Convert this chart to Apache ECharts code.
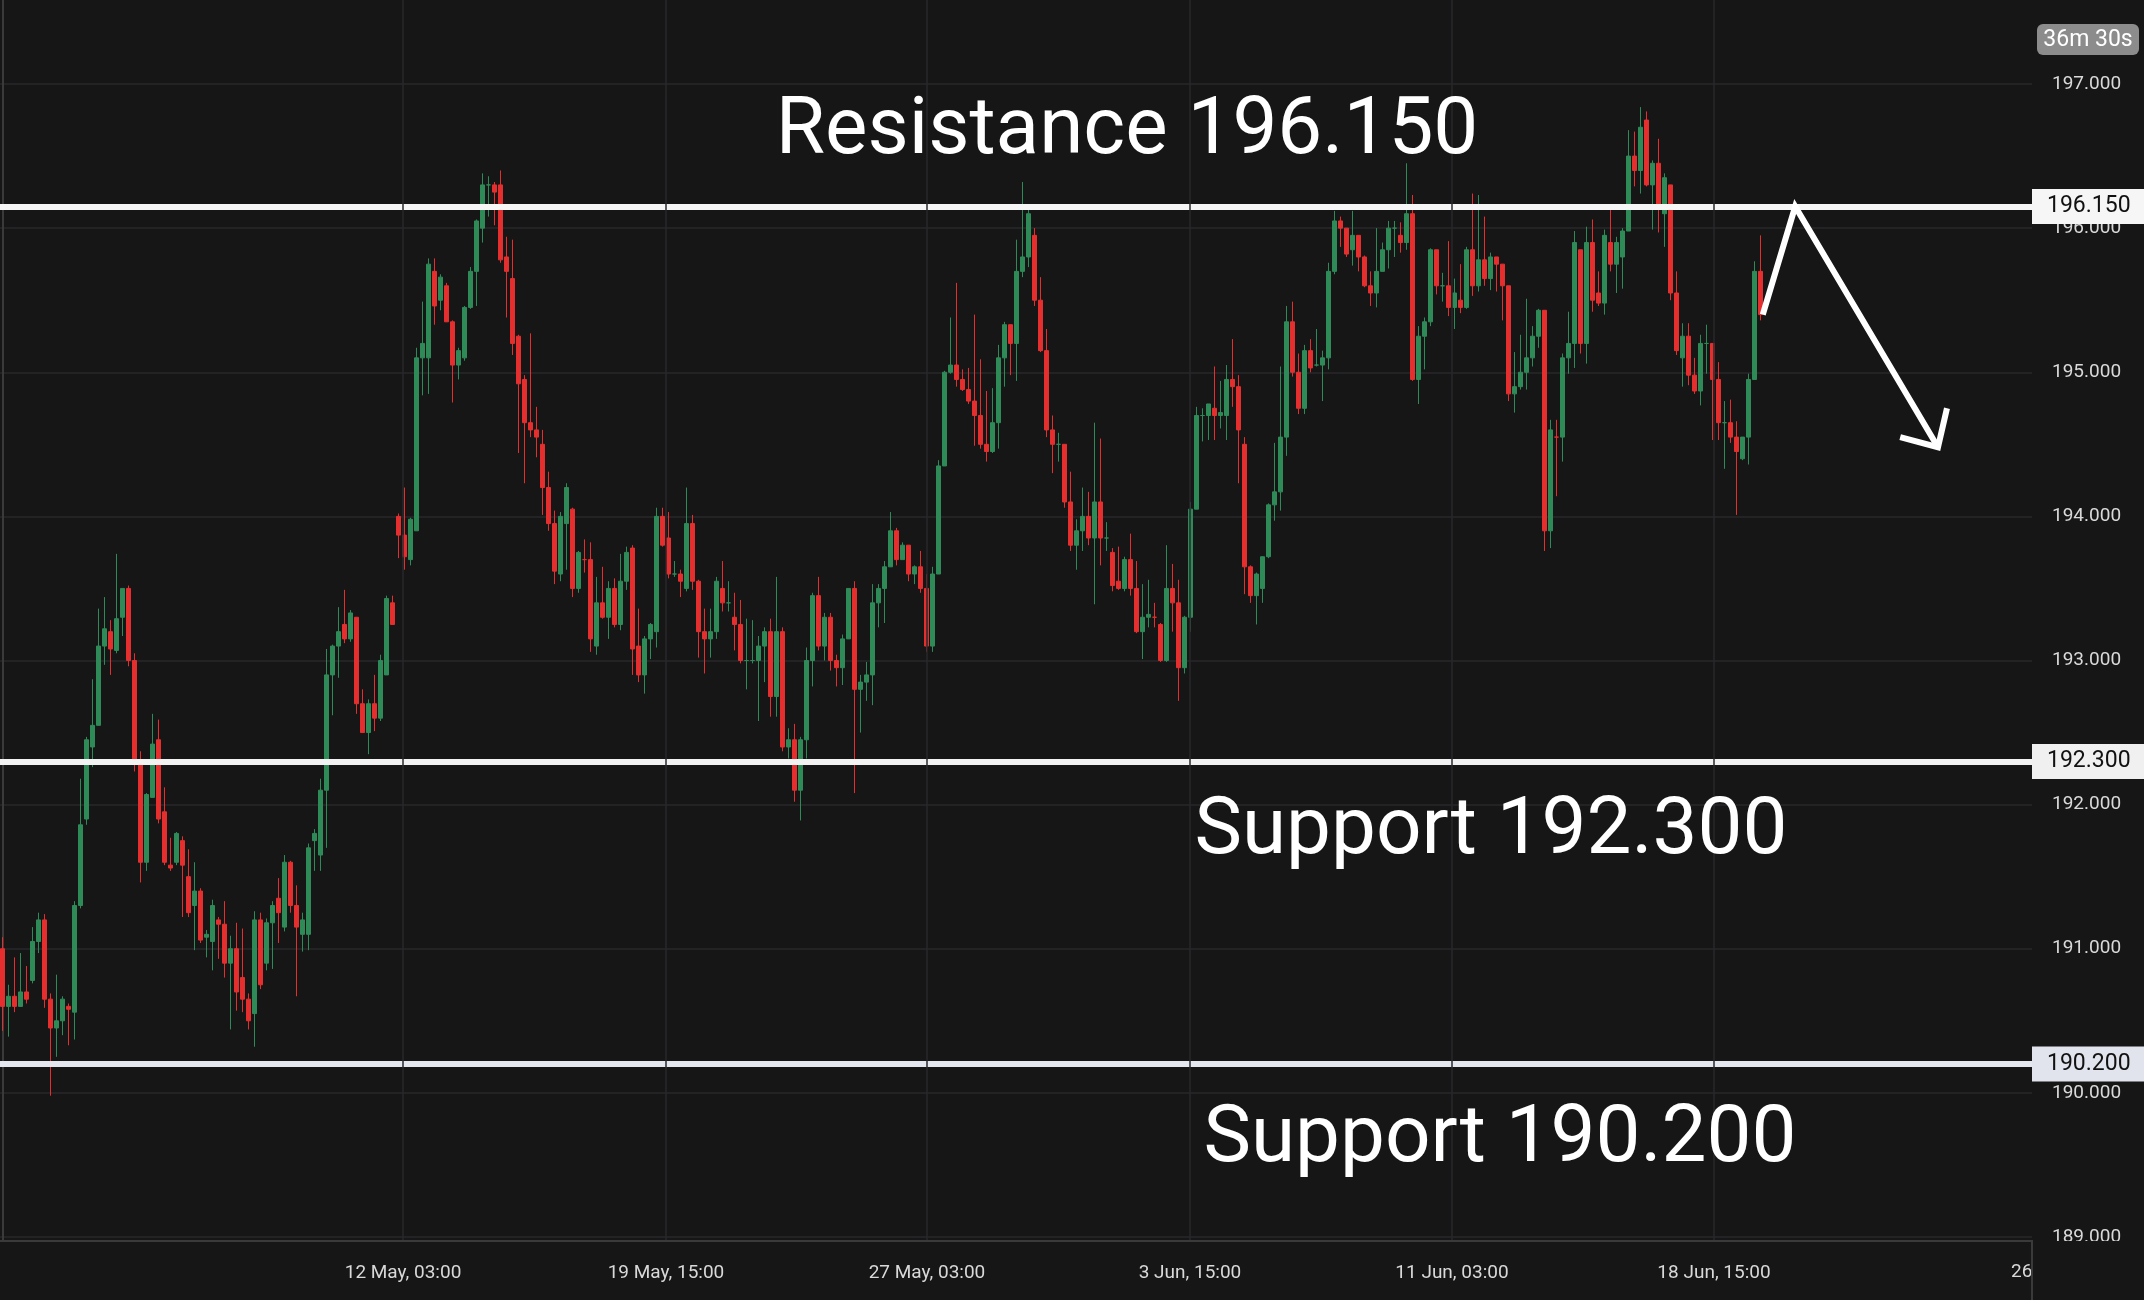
<!DOCTYPE html>
<html><head><meta charset="utf-8">
<script src="https://cdn.jsdelivr.net/npm/echarts@6/dist/echarts.min.js"></script>
<style>html,body{margin:0;padding:0;background:#161616;}#c{width:2144px;height:1300px;}</style>
</head><body><div id="c"></div>
<script>
// 3-hour candles
const opens = [
191.00,190.60,190.67,190.60,190.70,190.78,191.05,191.20,190.65,190.45,
190.50,190.60,190.56,191.30,191.90,192.40,192.55,193.10,193.20,193.07,
193.30,193.50,193.00,192.30,191.60,192.05,192.45,191.95,191.58,191.60,
191.75,191.50,191.30,191.40,191.08,191.05,191.20,191.17,190.90,191.00,
190.80,190.65,190.55,191.20,190.90,191.18,191.35,191.15,191.60,191.30,
191.10,191.10,191.75,191.65,192.10,192.90,193.10,193.25,193.15,193.30,
192.70,192.50,192.70,192.60,192.90,193.40,194.00,193.87,193.70,193.90,
195.10,195.10,195.70,195.50,195.60,195.35,195.05,195.10,195.45,195.70,
196.00,196.30,196.30,196.30,195.80,195.65,195.25,194.95,194.65,194.60,
194.50,194.20,193.95,193.60,193.95,194.05,193.50,193.70,193.70,193.10,
193.40,193.30,193.50,193.25,193.55,193.78,193.10,192.90,193.15,193.20,
194.00,193.85,193.60,193.60,193.50,193.95,193.55,193.20,193.15,193.20,
193.50,193.40,193.30,193.25,193.00,193.00,193.00,193.10,193.20,192.75,
193.20,192.40,192.45,192.10,192.45,193.00,193.45,193.10,193.30,193.00,
192.95,193.15,193.50,192.80,192.85,192.90,193.40,193.50,193.65,193.90,
193.70,193.80,193.60,193.65,193.50,193.10,193.60,194.35,195.00,195.05,
194.95,194.88,194.80,194.70,194.50,194.45,194.65,195.10,195.33,195.20,
195.70,195.80,195.95,195.50,195.15,194.60,194.50,194.50,194.10,193.80,
193.90,194.00,193.85,194.10,193.85,193.75,193.55,193.50,193.70,193.50,
193.20,193.30,193.30,193.25,193.00,193.50,193.40,192.95,193.30,194.05,
194.70,194.70,194.75,194.70,194.70,194.95,194.90,194.50,193.65,193.45,
193.50,193.72,194.08,194.17,194.55,195.35,195.00,194.75,195.15,195.05,
195.05,195.10,195.70,196.05,196.00,195.85,195.95,195.80,195.60,195.55,
195.70,195.85,196.00,195.95,195.90,196.10,194.95,195.25,195.35,195.85,
195.60,195.60,195.45,195.50,195.45,195.85,195.60,195.78,195.65,195.80,
195.75,195.60,194.85,194.90,195.00,195.10,195.25,195.43,193.90,194.55,
194.55,195.10,195.20,195.85,195.20,195.90,195.55,195.48,195.90,195.75,
195.80,195.98,196.50,196.40,196.75,196.30,196.45,196.10,196.30,195.55,
195.10,195.25,194.98,194.87,195.20,195.20,194.95,194.65,194.65,194.55,
194.40,194.55,194.95,195.70];
const highs = [
191.08,190.75,190.94,190.97,190.88,191.15,191.25,191.24,190.69,190.82,
190.67,190.62,191.33,192.18,192.47,192.87,193.36,193.44,193.28,193.74,
193.50,193.52,193.05,192.37,192.08,192.63,192.59,192.12,191.77,191.81,
191.78,191.69,191.60,191.42,191.13,191.34,191.22,191.33,191.09,191.18,
191.14,190.69,191.26,191.25,191.21,191.33,191.49,191.65,191.61,191.44,
191.25,191.73,191.83,192.18,193.08,193.11,193.37,193.49,193.35,193.30,
192.80,192.73,192.90,193.04,193.45,193.45,194.02,194.20,193.99,195.17,
195.49,195.79,195.79,195.68,195.62,195.36,195.17,195.46,195.73,196.06,
196.38,196.36,196.32,196.40,195.94,195.92,195.26,194.98,195.27,194.76,
194.60,194.31,194.04,194.03,194.23,194.06,193.76,193.84,193.82,193.58,
193.65,193.55,193.57,193.74,193.79,193.80,193.36,193.17,193.26,194.06,
194.06,194.03,193.69,193.63,194.20,194.01,193.56,193.36,193.36,193.58,
193.69,193.55,193.47,193.42,193.29,193.28,193.17,193.23,193.29,193.58,
193.23,192.53,192.56,192.47,193.09,193.47,193.58,193.33,193.33,193.04,
193.18,193.50,193.55,192.90,192.99,193.53,193.53,193.69,194.03,193.92,
193.82,193.80,193.66,193.76,193.60,193.65,194.39,195.01,195.38,195.62,
195.02,195.03,195.40,195.09,194.87,194.89,195.19,195.35,195.33,195.92,
196.32,196.13,196.00,195.66,195.30,194.70,194.58,194.50,194.31,193.98,
194.20,194.17,194.65,194.54,193.96,193.78,193.79,193.72,193.88,193.69,
193.53,193.56,193.40,193.26,193.80,193.67,193.56,193.31,194.10,194.76,
194.75,194.78,195.04,194.94,195.05,195.23,194.98,194.55,193.66,193.61,
193.72,194.09,194.51,195.04,195.46,195.49,195.13,195.19,195.23,195.30,
195.15,195.76,196.12,196.08,196.00,196.12,195.95,195.81,195.70,196.00,
195.90,196.05,196.05,196.04,196.45,196.23,195.32,195.38,195.86,195.85,
195.69,195.91,195.65,195.75,195.87,196.24,196.23,196.08,195.83,195.80,
195.75,195.60,195.14,195.26,195.51,195.32,195.44,195.43,194.67,194.67,
195.13,195.42,195.98,195.85,196.01,196.06,195.70,195.99,196.13,195.94,
196.00,196.68,196.67,196.84,196.81,196.47,196.62,196.38,196.30,195.70,
195.34,195.34,195.10,195.26,195.33,195.20,195.07,194.80,194.81,194.66,
194.55,194.99,195.77,195.95];
const lows = [
190.43,190.39,190.56,190.60,190.62,190.76,190.97,190.59,189.98,190.25,
190.40,190.33,190.37,191.28,191.86,192.26,192.55,192.97,192.90,193.05,
193.17,192.96,192.23,191.46,191.54,192.05,191.87,191.58,191.54,191.58,
191.22,191.22,190.99,191.04,190.94,190.85,190.93,190.80,190.44,190.57,
190.56,190.44,190.32,190.72,190.85,190.86,191.04,191.12,191.25,190.67,
190.98,190.99,191.54,191.54,191.70,192.62,192.88,193.12,193.13,192.63,
192.50,192.35,192.51,192.58,192.90,193.25,193.71,193.63,193.66,193.90,
194.84,194.85,195.33,195.43,195.35,194.79,194.95,195.08,195.44,195.46,
195.90,196.08,196.02,195.76,195.38,195.12,194.44,194.23,194.55,194.41,
194.01,193.90,193.53,193.55,193.63,193.44,193.47,193.61,193.06,193.04,
193.29,193.15,193.23,193.21,193.49,192.90,192.85,192.77,193.01,193.09,
193.79,193.57,193.58,193.44,193.48,193.49,193.02,192.91,193.02,193.15,
193.34,193.34,193.07,192.98,192.80,192.98,192.58,192.85,192.61,192.61,
192.37,192.32,192.02,191.89,192.32,192.82,193.07,193.00,192.93,192.82,
192.83,193.15,192.08,192.50,192.72,192.69,193.23,193.26,193.65,193.66,
193.70,193.55,193.53,193.47,193.06,193.06,193.60,194.35,194.99,194.90,
194.87,194.78,194.49,194.47,194.38,194.44,194.47,194.90,194.98,194.94,
195.66,195.73,195.46,195.14,194.55,194.30,194.38,194.06,193.76,193.63,
193.76,193.80,193.39,193.66,193.76,193.48,193.49,193.48,193.45,193.19,
193.01,193.23,193.23,192.99,192.99,193.20,192.72,192.91,193.20,194.05,
194.52,194.53,194.53,194.61,194.53,194.76,194.23,193.46,193.40,193.25,
193.40,193.71,193.97,194.04,194.42,194.97,194.71,194.71,195.00,195.04,
194.80,195.02,195.68,195.87,195.80,195.74,195.70,195.59,195.46,195.45,
195.70,195.72,195.80,195.83,195.85,194.94,194.78,195.02,195.32,195.54,
195.49,195.39,195.30,195.41,195.44,195.53,195.56,195.60,195.57,195.56,
195.36,194.80,194.72,194.88,194.88,195.04,195.17,193.76,193.78,194.14,
194.38,194.99,195.03,195.13,195.06,195.42,195.46,195.40,195.70,195.55,
195.58,195.98,196.29,196.24,196.29,195.99,195.97,195.87,195.50,195.12,
194.90,194.91,194.85,194.77,194.99,194.53,194.53,194.33,194.51,194.01,
194.39,194.36,194.95,195.36];
const closes = [
190.60,190.67,190.60,190.70,190.65,191.05,191.20,190.65,190.45,190.50,
190.65,190.58,191.30,191.86,192.45,192.55,193.10,193.22,193.08,193.29,
193.50,193.00,192.30,191.60,192.07,192.42,191.90,191.60,191.56,191.80,
191.58,191.25,191.40,191.06,191.10,191.30,191.17,190.90,191.00,190.70,
190.65,190.50,191.20,190.75,191.18,191.30,191.25,191.60,191.30,191.15,
191.20,191.70,191.80,192.10,192.90,193.10,193.20,193.15,193.33,192.70,
192.50,192.70,192.60,193.00,193.43,193.25,193.87,193.72,193.98,195.10,
195.20,195.75,195.46,195.66,195.35,195.05,195.15,195.45,195.70,196.05,
196.30,196.30,196.25,195.78,195.70,195.20,194.92,194.65,194.60,194.55,
194.20,193.95,193.62,194.00,194.20,193.50,193.75,193.70,193.15,193.40,
193.30,193.50,193.25,193.55,193.75,193.08,192.90,193.15,193.25,194.00,
193.80,193.60,193.60,193.55,193.95,193.55,193.20,193.15,193.20,193.55,
193.40,193.40,193.25,193.00,193.00,193.00,193.10,193.20,192.75,193.20,
192.40,192.45,192.10,192.45,193.00,193.45,193.10,193.30,193.00,192.95,
193.15,193.50,192.80,192.85,192.90,193.40,193.50,193.65,193.90,193.70,
193.80,193.60,193.65,193.50,193.10,193.60,194.35,195.00,195.05,194.95,
194.88,194.80,194.70,194.50,194.45,194.65,195.10,195.33,195.20,195.70,
195.80,196.10,195.50,195.15,194.60,194.50,194.50,194.10,193.80,193.90,
194.00,193.85,194.10,193.85,193.85,193.52,193.50,193.70,193.50,193.20,
193.30,193.32,193.30,193.00,193.50,193.40,192.95,193.30,194.05,194.70,
194.70,194.78,194.70,194.72,194.95,194.90,194.60,193.65,193.45,193.60,
193.72,194.08,194.17,194.55,195.35,195.00,194.75,195.15,195.03,195.05,
195.10,195.70,196.05,196.00,195.82,195.95,195.80,195.60,195.55,195.70,
195.85,196.00,196.00,195.90,196.10,194.95,195.25,195.35,195.85,195.60,
195.60,195.45,195.55,195.45,195.85,195.60,195.78,195.65,195.80,195.75,
195.60,194.85,194.90,195.00,195.10,195.25,195.43,193.90,194.60,194.55,
195.10,195.20,195.90,195.20,195.90,195.50,195.48,195.95,195.75,195.90,
195.98,196.50,196.40,196.70,196.30,196.45,196.15,196.35,195.55,195.15,
195.25,194.98,194.87,195.20,195.20,194.95,194.65,194.65,194.55,194.45,
194.55,194.95,195.70,195.40];

// time-axis labels and where they sit (in candle units); the last one lies just past the plot edge
const tickLabels = ["12 May, 03:00","19 May, 15:00","27 May, 03:00","3 Jun, 15:00","11 Jun, 03:00","18 Jun, 15:00","26 Jun, 03:00"];
const tickAt = [66.67, 110.5, 154, 197.83, 241.5, 285.17];
// price axis ticks
const priceTicks = [189, 190, 191, 192, 193, 194, 195, 196, 197];
// horizontal levels
const levels = [196.15, 192.3, 190.2];
const levelNames = ["Resistance", "Support", "Support"];
// projected path annotation (candle index, price)
const arrowPath = [[293.3, 195.40], [298.7, 196.15], [322.5, 194.48]];
const arrowHead = [[316.2, 194.55], [322.5, 194.48], [324.0, 194.75]];
const countdown = "36m 30s";

const UP = '#2e8b57', DOWN = '#e52f2f';
const FONT = 'Roboto, "Noto Sans", sans-serif';
const BG = '#161616';
const levelLine = ['#f6f6f6', '#f2f2f2', '#e4e7ef'];
const levelTag = ['#f6f6f6', '#f0f0f0', '#e1e4ec'];
const textPos = [[1127, 133], [1491, 833], [1500, 1141]];

const candles = opens.map((o, i) => [i, o, closes[i], lows[i], highs[i]]);

const chart = echarts.init(document.getElementById('c'), null, {renderer: 'canvas', width: 2144, height: 1300});

const graphics = [
  {type: 'rect', shape: {x: 0, y: 1241, width: 2144, height: 59}, style: {fill: BG}, z: 5, silent: true},
  {type: 'text', x: 2011, y: 1272, style: {text: tickLabels[tickLabels.length - 1], fill: '#d9d9d9', font: '19px ' + FONT,
    align: 'left', verticalAlign: 'middle', textAlign: 'left', textVerticalAlign: 'middle'}, z: 10, silent: true},
  {type: 'rect', shape: {x: 2033, y: 1242, width: 111, height: 58}, style: {fill: BG}, z: 11, silent: true},
  {type: 'line', shape: {x1: 2032, y1: 1240, x2: 2032, y2: 1300}, style: {stroke: '#3a3a3a', lineWidth: 2}, z: 12, silent: true},
  {type: 'rect', shape: {x: 2037, y: 24, width: 102, height: 31, r: 6}, style: {fill: '#8c8c8c'}, z: 12, silent: true},
  {type: 'text', x: 2088, y: 40, style: {text: countdown, fill: '#ffffff', font: '23px ' + FONT, align: 'center', verticalAlign: 'middle', textAlign: 'center', textVerticalAlign: 'middle'}, z: 12, silent: true}
];
levels.forEach((v, i) => {
  graphics.push({type: 'text', x: textPos[i][0], y: textPos[i][1],
    style: {text: levelNames[i] + ' ' + v.toFixed(3), fill: '#ffffff', font: '80px ' + FONT,
      align: 'center', verticalAlign: 'middle', textAlign: 'center', textVerticalAlign: 'middle'},
    z: 12, silent: true});
});

const option = {
  backgroundColor: BG,
  animation: false,
  grid: {left: 0, right: 112, top: 0, bottom: 59, containLabel: false},
  xAxis: {
    type: 'value', min: -0.5, max: 338.17, z: 10,
    axisLine: {show: true, lineStyle: {color: '#3a3a3a', width: 2}},
    axisTick: {show: false, customValues: tickAt},
    axisLabel: {customValues: tickAt, color: '#d9d9d9', fontSize: 19, fontFamily: FONT, margin: 23,
      formatter: v => { const i = tickAt.findIndex(t => Math.abs(t - v) < 0.01); return i >= 0 ? tickLabels[i] : ''; }},
    splitLine: {show: true, lineStyle: {color: '#29292d', width: 1.5}}
  },
  yAxis: {
    type: 'value', position: 'right', min: 188.972, max: 197.583, scale: true,
    axisLine: {show: true, lineStyle: {color: '#3a3a3a', width: 2}},
    axisTick: {show: false, customValues: priceTicks},
    axisLabel: {customValues: priceTicks, color: '#d9d9d9', fontSize: 19, fontFamily: FONT, margin: 20,
      formatter: v => v.toFixed(3)},
    splitLine: {show: true, lineStyle: {color: '#29292d', width: 1.5}}
  },
  series: [
    {
      type: 'candlestick', data: candles, encode: {x: 0, y: [1, 2, 3, 4]},
      barWidth: 4.5, silent: true,
      itemStyle: {color: UP, color0: DOWN, borderColor: UP, borderColor0: DOWN, borderWidth: 1},
      markLine: {
        symbol: ['none', 'none'], silent: true, animation: false,
        data: levels.map((v, i) => ({
          yAxis: v,
          lineStyle: {color: levelLine[i], width: 6, type: 'solid'},
          label: {show: true, position: 'end', distance: 0, formatter: p => Number(p.value).toFixed(3),
            color: '#111111', fontSize: 23, fontFamily: FONT, backgroundColor: levelTag[i],
            padding: [6, 15, 6, 15], borderRadius: 0}
        }))
      }
    },
    {
      type: 'line', data: arrowPath, symbol: 'none', silent: true, z: 6,
      lineStyle: {color: '#ffffff', width: 6, join: 'miter', cap: 'butt'}
    },
    {
      type: 'line', data: arrowHead, symbol: 'none', silent: true, z: 6,
      lineStyle: {color: '#ffffff', width: 6, join: 'miter', cap: 'butt'}
    }
  ],
  graphic: graphics
};
chart.setOption(option);
</script>
</body></html>
